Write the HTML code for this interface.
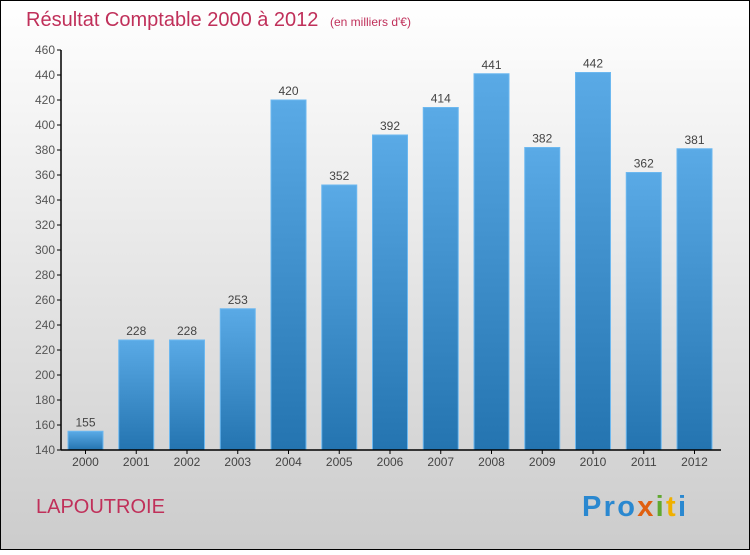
<!DOCTYPE html>
<html><head><meta charset="utf-8"><style>
body{margin:0;width:750px;height:550px;overflow:hidden;font-family:"Liberation Sans",sans-serif}
</style></head><body>
<svg width="750" height="550" xmlns="http://www.w3.org/2000/svg">
<defs>
<linearGradient id="bg" x1="0" y1="0" x2="0" y2="1"><stop offset="0" stop-color="#ffffff"/><stop offset="1" stop-color="#cccccc"/></linearGradient>
<linearGradient id="bar" x1="0" y1="0" x2="0" y2="1"><stop offset="0" stop-color="#5aaae6"/><stop offset="1" stop-color="#2474b0"/></linearGradient>
</defs>
<rect x="0.5" y="0.5" width="749" height="549" fill="url(#bg)" stroke="#000"/>
<text x="26" y="26" font-size="20" fill="#c0305a">Résultat Comptable 2000 à 2012 <tspan font-size="12" dx="6">(en milliers d'€)</tspan></text>
<g id="yaxis"></g>
<g id="bars"></g>
<line x1="61" y1="50" x2="61" y2="450" stroke="#000" stroke-width="1.5"/>
<line x1="61" y1="450" x2="721" y2="450" stroke="#000" stroke-width="1.5"/>
<text x="36" y="513" font-size="20" fill="#c0305a">LAPOUTROIE</text>
<text x="582" y="516" font-size="29" font-weight="bold" textLength="104"><tspan fill="#2a88d0">Pro</tspan><tspan fill="#e06010">x</tspan><tspan fill="#60a830">i</tspan><tspan fill="#f0b000">t</tspan><tspan fill="#2a88d0">i</tspan></text>
</svg>
<script>
const categories=["2000","2001","2002","2003","2004","2005","2006","2007","2008","2009","2010","2011","2012"];
const values=[155,228,228,253,420,352,392,414,441,382,442,362,381];
const yTicks=[140,160,180,200,220,240,260,280,300,320,340,360,380,400,420,440,460];
const ns="http://www.w3.org/2000/svg";
const y=v=>450-(v-140)*400/320;
const x=i=>68+i*50.75;
const bw=35;
const ya=document.getElementById('yaxis'),bg=document.getElementById('bars');
function mk(t,a,p){const e=document.createElementNS(ns,t);for(const k in a)e.setAttribute(k,a[k]);p.appendChild(e);return e;}
yTicks.forEach(t=>{
 const l=mk('line',{x1:57,x2:61,y1:y(t),y2:y(t),stroke:'#000'},ya);
 
 
 const tx=mk('text',{x:55,y:y(t)+4,'font-size':12,fill:'#555','text-anchor':'end'},ya);
 tx.textContent=t;
 
 
});
categories.forEach((c,i)=>{
 const r=mk('rect',{x:x(i),y:y(values[i]),width:bw,height:450-y(values[i]),fill:'url(#bar)',stroke:'#6cb8f0','stroke-width':1},bg);
 
 
 const v=mk('text',{x:x(i)+bw/2,y:y(values[i])-5,'font-size':12,fill:'#444','text-anchor':'middle'},bg);
 v.textContent=values[i];
 
 
 const xl=mk('text',{x:x(i)+bw/2,y:466,'font-size':12,fill:'#444','text-anchor':'middle'},bg);
 xl.textContent=c;
 
 
 const tk=mk('line',{x1:x(i)+bw/2,x2:x(i)+bw/2,y1:450,y2:454,stroke:'#000'},bg);
 
 
});
</script>
</body></html>
